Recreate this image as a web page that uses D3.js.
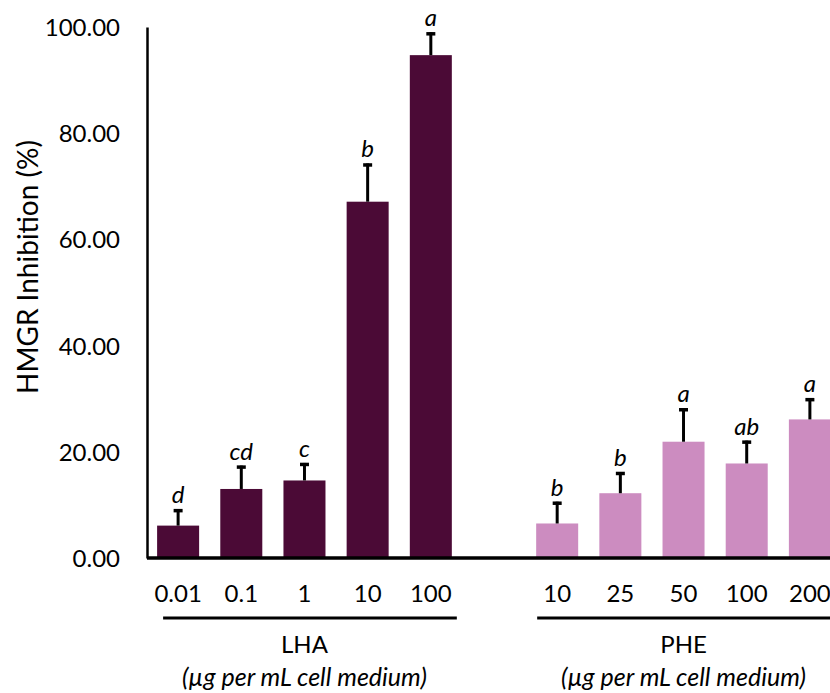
<!DOCTYPE html>
<html>
<head>
<meta charset="utf-8">
<script src="https://cdn.jsdelivr.net/npm/d3@7"></script>
<style>
  body { margin: 0; background: #fff; }
  svg { display: block; font-family: Lato, "Open Sans", sans-serif; }
</style>
</head>
<body>
<svg id="chart"></svg>
<script>
// data
const lhaDoses = ['0.01', '0.1', '1', '10', '100'];
const lhaValues = [6.1, 13.0, 14.6, 67.1, 94.7];
const lhaErrors = [3.1, 4.4, 3.3, 7.2, 4.3];
const lhaLetters = ['d', 'cd', 'c', 'b', 'a'];

const pheDoses = ['10', '25', '50', '100', '200'];
const pheValues = [6.5, 12.2, 21.9, 17.8, 26.1];
const pheErrors = [4.1, 4.0, 6.3, 4.3, 4.0];
const pheLetters = ['b', 'b', 'a', 'ab', 'a'];

const yTicks = [0, 20, 40, 60, 80, 100];
const groups = [
  { name: 'LHA', color: '#4b0a36', doses: lhaDoses, values: lhaValues, errors: lhaErrors, letters: lhaLetters },
  { name: 'PHE', color: '#cc8cc0', doses: pheDoses, values: pheValues, errors: pheErrors, letters: pheLetters }
];

const width = 830, height = 693;
const plotLeft = 147, plotTop = 27, plotBottom = 558;
const fontSize = 24;

const svg = d3.select('#chart').attr('width', width).attr('height', height);

// one blank slot between the two groups
const keys = [...lhaDoses.map(d => 'LHA|' + d), 'gap', ...pheDoses.map(d => 'PHE|' + d)];
const x = d3.scaleBand()
  .domain(keys)
  .range([plotLeft, plotLeft + 694])
  .paddingInner(0.335)
  .paddingOuter(0.16);

const y = d3.scaleLinear().domain([0, 100]).range([plotBottom, plotTop]);

// bars, error bars, letters
groups.forEach(g => {
  const rows = g.doses.map((d, i) => ({
    key: g.name + '|' + d, v: g.values[i], e: g.errors[i], l: g.letters[i]
  }));
  const cx = d => x(d.key) + x.bandwidth() / 2;

  svg.append('g').selectAll('rect').data(rows).join('rect')
    .attr('x', d => x(d.key))
    .attr('y', d => y(d.v))
    .attr('width', x.bandwidth())
    .attr('height', d => y(0) - y(d.v))
    .attr('fill', g.color);

  const err = svg.append('g').attr('stroke', '#000');
  err.selectAll('line.v').data(rows).join('line')
    .attr('class', 'v')
    .attr('x1', cx).attr('x2', cx)
    .attr('y1', d => y(d.v)).attr('y2', d => y(d.v + d.e))
    .attr('stroke-width', 3);
  err.selectAll('line.cap').data(rows).join('line')
    .attr('class', 'cap')
    .attr('x1', d => cx(d) - 4.5).attr('x2', d => cx(d) + 4.5)
    .attr('y1', d => y(d.v + d.e) + 1.5).attr('y2', d => y(d.v + d.e) + 1.5)
    .attr('stroke-width', 3.5);

  svg.append('g').selectAll('text').data(rows).join('text')
    .attr('x', cx)
    .attr('y', d => y(d.v + d.e) - 6)
    .attr('text-anchor', 'middle')
    .attr('font-size', fontSize)
    .attr('font-style', 'italic')
    .attr('fill', '#000')
    .text(d => d.l);
});

// y axis
const yAxis = svg.append('g')
  .attr('transform', `translate(${plotLeft},0)`)
  .call(d3.axisLeft(y).tickValues(yTicks).tickFormat(d3.format('.2f')).tickSize(0).tickPadding(27));
yAxis.select('.domain').attr('stroke', '#000').attr('stroke-width', 2.5);
yAxis.selectAll('text').attr('font-size', fontSize).attr('font-family', 'Lato, sans-serif').attr('fill', '#000').attr('dy', '0.35em');

// x axis (category labels only at real doses)
const xAxis = svg.append('g')
  .attr('transform', `translate(0,${plotBottom})`)
  .call(d3.axisBottom(x).tickValues(keys.filter(k => k !== 'gap'))
    .tickFormat(k => k.split('|')[1]).tickSize(0));
xAxis.select('.domain').attr('stroke', '#000').attr('stroke-width', 3.5)
  .attr('d', `M${plotLeft},0H${width}`);
xAxis.selectAll('text').attr('font-size', fontSize).attr('font-family', 'Lato, sans-serif').attr('fill', '#000')
  .attr('dy', null).attr('y', 44);

// group brackets and names
groups.forEach((g, gi) => {
  const x0 = x(g.name + '|' + g.doses[0]);
  const x1 = x(g.name + '|' + g.doses[g.doses.length - 1]) + x.bandwidth();
  const a = gi === 0 ? x0 + 6 : x0 + 1;
  const b = Math.min(x1 + 5, width);
  svg.append('line')
    .attr('x1', a).attr('x2', b)
    .attr('y1', 618).attr('y2', 618)
    .attr('stroke', '#000').attr('stroke-width', 3);
  const mid = (x0 + x1) / 2;
  svg.append('text')
    .attr('x', mid).attr('y', 653)
    .attr('text-anchor', 'middle').attr('font-size', fontSize).attr('fill', '#000')
    .text(g.name);
  svg.append('text')
    .attr('x', mid).attr('y', 686)
    .attr('text-anchor', 'middle').attr('font-size', 25).attr('font-style', 'italic').attr('fill', '#000')
    .text('(\u00b5g per mL cell medium)');
});

// y title
svg.append('text')
  .attr('transform', 'translate(38,267) rotate(-90)')
  .attr('text-anchor', 'middle')
  .attr('font-size', 28)
  .attr('fill', '#000')
  .text('HMGR Inhibition (%)');
</script>
</body>
</html>
